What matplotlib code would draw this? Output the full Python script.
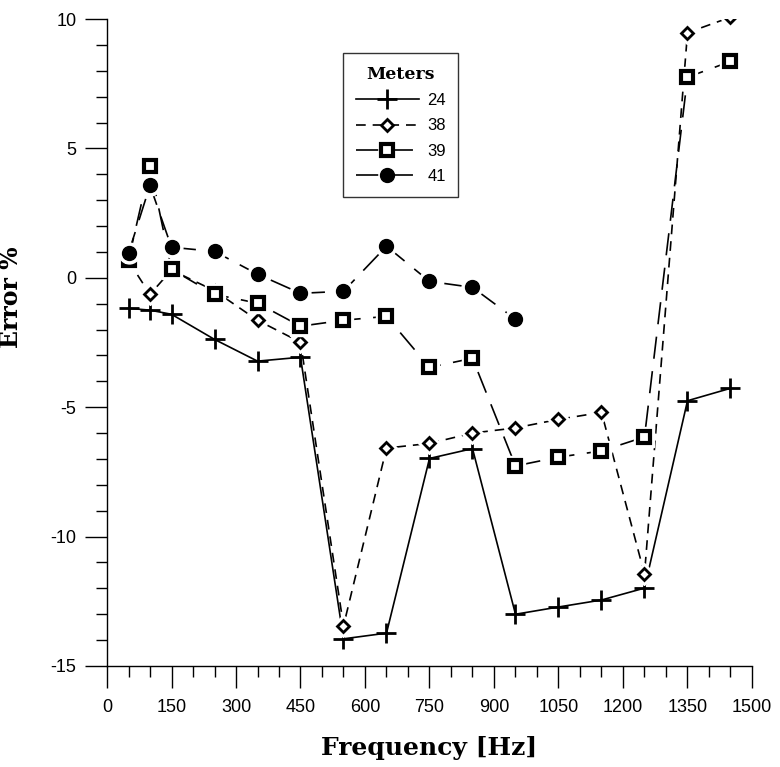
import matplotlib
matplotlib.use('Agg')
import matplotlib.pyplot as plt
from matplotlib.lines import Line2D
from matplotlib.ticker import MultipleLocator

plt.rcParams['lines.scale_dashes'] = False
plt.rcParams['axes.unicode_minus'] = False

# frequencies [Hz] at which the meters were checked
FREQ = [50, 100, 150, 250, 350, 450, 550, 650, 750, 850,
        950, 1050, 1150, 1250, 1350, 1450]

# error % per meter
ERR_24 = [-1.18, -1.25, -1.41, -2.38, -3.22, -3.07, -13.95, -13.73,
          -6.98, -6.60, -13.00, -12.72, -12.45, -11.99, -4.75, -4.27]
ERR_38 = [0.65, -0.64, 0.30, -0.50, -1.64, -2.49, -13.45, -6.58,
          -6.40, -6.00, -5.80, -5.47, -5.20, -11.45, 9.47, 10.07]
ERR_39 = [0.70, 4.31, 0.33, -0.64, -0.98, -1.87, -1.64, -1.49,
          -3.46, -3.11, -7.27, -6.93, -6.69, -6.15, 7.75, 8.36]
ERR_41 = [0.95, 3.57, 1.18, 1.02, 0.14, -0.60, -0.52, 1.22,
          -0.14, -0.37, -1.60]

SANS = 'Liberation Sans'
SERIF = 'DejaVu Serif'

fig = plt.figure(figsize=(7.8, 7.67), dpi=100)
ax = fig.add_axes([107 / 780, 1 - 666 / 767, 645 / 780, 647 / 767])

# label, x, y, line style, marker style, white gap round marker?
series = [
    ('24', FREQ, ERR_24, dict(linestyle='-'),
     dict(marker='+', markersize=14, mew=2.0), False),
    ('38', FREQ, ERR_38, dict(dashes=(7, 5)),
     dict(marker='D', markersize=6, mew=2.0, mfc='white'), True),
    ('39', FREQ, ERR_39, dict(dashes=(16, 9)),
     dict(marker='s', markersize=9, mew=3.0, mfc='white'), True),
    ('41', FREQ[:len(ERR_41)], ERR_41, dict(dashes=(16, 9)),
     dict(marker='o', markersize=10, mew=1.0), True),
]

handles = []
for i, (label, x, y, lkw, mkw, gap) in enumerate(series):
    ax.plot(x, y, color='black', linewidth=1.2, zorder=2, **lkw)
    if gap:
        ax.plot(x, y, linestyle='none', color='white', mec='white',
                marker=mkw['marker'], markersize=mkw['markersize'] + 5,
                zorder=3 + 2 * i)
    ax.plot(x, y, linestyle='none', color='black', mec='black',
            zorder=4 + 2 * i, **mkw)
    handles.append(Line2D([], [], color='black', linewidth=1.2,
                          mec='black', label=label, **lkw, **mkw))

ax.set_xlim(0, 1500)
ax.set_ylim(-15, 10)
ax.xaxis.set_major_locator(MultipleLocator(150))
ax.xaxis.set_minor_locator(MultipleLocator(50))
ax.yaxis.set_major_locator(MultipleLocator(5))
ax.yaxis.set_minor_locator(MultipleLocator(1))

for side in ('top', 'right'):
    ax.spines[side].set_visible(False)
for side in ('left', 'bottom'):
    ax.spines[side].set_linewidth(1.0)

ax.tick_params(which='major', direction='out', length=16, width=1.0,
               labelsize=13)
ax.tick_params(which='minor', direction='out', length=8, width=1.0)
ax.tick_params(axis='x', which='major', pad=8)
ax.tick_params(axis='y', which='major', pad=6)
for lab in ax.get_xticklabels() + ax.get_yticklabels():
    lab.set_family(SANS)

ax.set_xlabel('Frequency [Hz]', family=SERIF, fontweight='bold',
              fontsize=18)
ax.set_ylabel('Error %', family=SERIF, fontweight='bold', fontsize=17)
ax.xaxis.set_label_coords(0.5, -0.108)
ax.yaxis.set_label_coords(-0.13, 0.57)

leg = ax.legend(handles=handles, loc='upper left',
                bbox_to_anchor=(0.366, 0.947), borderaxespad=0,
                frameon=True, fancybox=False, handlelength=3.8,
                handletextpad=0.5, labelspacing=0.62, borderpad=0.75,
                fontsize=12, title='Meters',
                title_fontproperties={'family': SERIF, 'weight': 'bold',
                                      'size': 12.5})
leg.get_frame().set_edgecolor('black')
leg.get_frame().set_linewidth(1.0)
for t in leg.get_texts():
    t.set_family(SANS)

fig.savefig('out.png', dpi=100)
